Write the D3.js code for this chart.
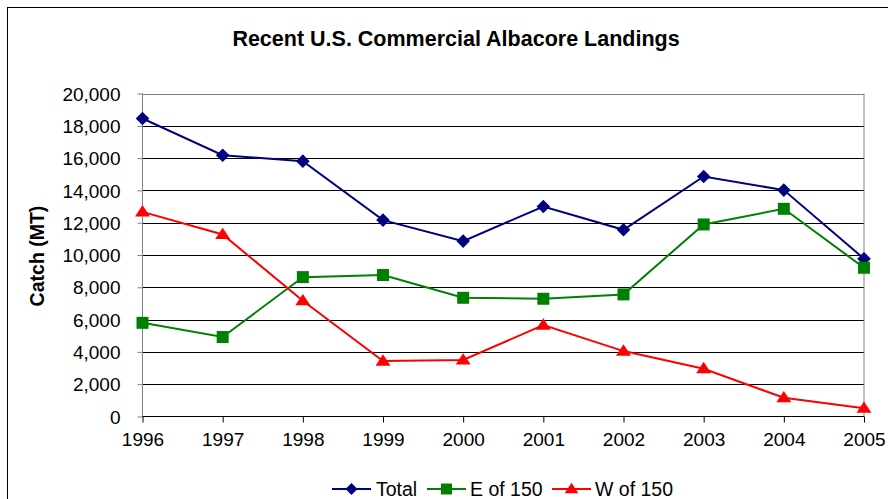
<!DOCTYPE html>
<html><head><meta charset="utf-8">
<script src="https://cdn.jsdelivr.net/npm/d3@7/dist/d3.min.js"></script>
<style>body{margin:0;background:#fff}svg{display:block;font-family:Arial,"Liberation Sans",sans-serif}</style>
</head><body><svg id="c" width="888" height="499"></svg>
<script>
const years = ["1996","1997","1998","1999","2000","2001","2002","2003","2004","2005"];
const total = [18450,16180,15810,12160,10860,13000,11560,14860,14020,9770];
const east150 = [5800,4920,8630,8760,7350,7290,7560,11890,12860,9210];
const west150 = [12670,11270,7170,3430,3500,5660,4050,2960,1160,510];
const yTicks = [0,2000,4000,6000,8000,10000,12000,14000,16000,18000,20000];
const seriesNames = ["Total","E of 150","W of 150"];
const seriesColors = ["#000080","#008000","#FF0000"];
const seriesValues = [total, east150, west150];

const FONT = "Arial,'Liberation Sans',sans-serif";
function marker(i, s){
  if(i===0) return `M0,${-s}L${s},0L0,${s}L${-s},0Z`;
  if(i===1) return `M${-s},${-s}H${s}V${s}H${-s}Z`;
  const h = s*1.75;
  return `M0,${-h*0.6}L${s*1.15},${h*0.4}L${-s*1.15},${h*0.4}Z`;
}

const svg = d3.select("#c");
svg.append("rect").attr("x",7.5).attr("y",7.5).attr("width",900).attr("height",520)
  .attr("fill","#fff").attr("stroke","#000").attr("stroke-width",1);

const L=142.5, R=864, T=93.5, B=416.5;
const x = d3.scalePoint().domain(years).range([L,R]);
const y = d3.scaleLinear().domain([0,20000]).range([B,T]);

svg.append("text").attr("x",456).attr("y",46).attr("text-anchor","middle")
  .attr("font-weight","bold").attr("font-size",21.5).text("Recent U.S. Commercial Albacore Landings");

svg.append("g").selectAll("line").data(yTicks.filter(d=>d>0)).join("line")
  .attr("x1",L).attr("x2",R).attr("y1",d=>Math.round(y(d))+0.5).attr("y2",d=>Math.round(y(d))+0.5)
  .attr("stroke",d=>d===20000?"#808080":"#000").attr("stroke-width",1);
svg.append("line").attr("x1",R).attr("x2",R).attr("y1",T).attr("y2",B).attr("stroke","#808080");

const ya = svg.append("g").attr("transform",`translate(${L},0)`)
  .call(d3.axisLeft(y).tickValues(yTicks).tickSize(5).tickPadding(17).tickFormat(d3.format(",")));
ya.attr("font-family",FONT).attr("font-size",19);
ya.select(".domain").attr("stroke","#808080").attr("d",`M0,${T}V${B}`);
ya.selectAll(".tick line").attr("stroke","#808080");
ya.selectAll("text").attr("fill","#000").attr("dy","0.35em");

const xa = svg.append("g").attr("transform",`translate(0,${B})`)
  .call(d3.axisBottom(x).tickSize(6).tickPadding(10));
xa.attr("font-family",FONT).attr("font-size",19);
xa.select(".domain").attr("stroke","#000").attr("d",`M${L},0H${R}`);
xa.selectAll(".tick line").attr("stroke","#000");
xa.selectAll("text").attr("fill","#000");

svg.append("text").attr("transform","translate(44,256) rotate(-90)").attr("text-anchor","middle")
  .attr("font-weight","bold").attr("font-size",19.5).text("Catch (MT)");

seriesValues.forEach((vals,i)=>{
  const g = svg.append("g");
  g.append("path").datum(vals).attr("fill","none").attr("stroke",seriesColors[i]).attr("stroke-width",2)
    .attr("d",d3.line().x((d,j)=>x(years[j])).y(d=>y(d)));
  const s = i===0?6.8:(i===1?6:6.5);
  g.selectAll("path.m").data(vals).join("path").attr("class","m")
    .attr("transform",(d,j)=>`translate(${x(years[j])},${y(d)})`)
    .attr("d",marker(i,s)).attr("fill",seriesColors[i]);
});

const legX = [332, 427, 552], legTextX=[376,470,595], ly=489;
seriesNames.forEach((n,i)=>{
  const g=svg.append("g");
  g.append("line").attr("x1",legX[i]).attr("x2",legX[i]+39).attr("y1",ly).attr("y2",ly)
    .attr("stroke",seriesColors[i]).attr("stroke-width",2);
  g.append("path").attr("transform",`translate(${legX[i]+19.5},${ly})`)
    .attr("d",marker(i,i===0?6:(i===1?5.5:6))).attr("fill",seriesColors[i]);
  g.append("text").attr("x",legTextX[i]).attr("y",ly).attr("dy","0.35em").attr("font-size",19.5).text(n);
});
</script></body></html>
